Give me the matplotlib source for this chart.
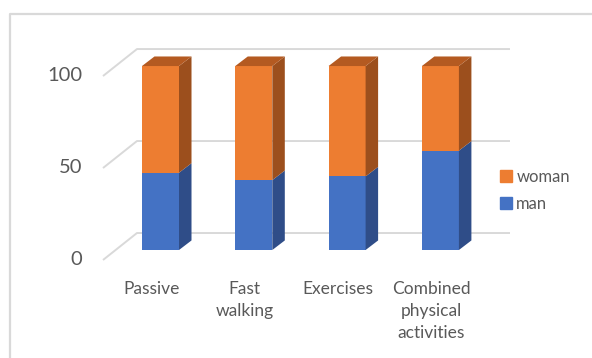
import matplotlib.pyplot as plt
from matplotlib.patches import Patch

categories = ["Passive", "Fast\nwalking", "Exercises", "Combined\nphysical\nactivities"]
man = [42, 38, 40, 54]
woman = [58, 62, 60, 46]
yticks = [0, 50, 100]

blue, blue_side = "#4472c4", "#2f4d88"
orange, orange_side, orange_top = "#ed7d31", "#9c4f1d", "#b45a21"
grid_c = "#d9d9d9"
text_c = "#595959"

plt.rcParams['font.family'] = ['Lato', 'DejaVu Sans']

fig = plt.figure(figsize=(5.92, 3.58), dpi=100)
ax = fig.add_axes([0, 0, 1, 1])
ax.set_xlim(-1.720, 4.625)
ax.set_ylim(-58.7, 135.9)
ax.axis('off')

# depth offsets (x in category units, y in value units)
bw = 0.397                   # bar width
bdx, bdy = 0.134, 5.2        # bar depth
fdx, fdy = -0.616, -5.43     # floor front-left corner
wx0, wx1, wdy = -0.252, 3.746, 9.24   # back wall

# gridlines on the side + back wall
for v in yticks:
    ax.plot([fdx, wx0, wx1], [v + fdy, v + wdy, v + wdy], color=grid_c, lw=1.4,
            zorder=1, solid_capstyle='butt')
    ax.text(-0.84, v + fdy + 0.5, str(v), ha='right', va='center', fontsize=14.5,
            color=text_c)

x = list(range(len(categories)))
ax.bar(x, man, width=bw, color=blue, zorder=3)
ax.bar(x, woman, width=bw, bottom=man, color=orange, zorder=3)

for i in x:
    xr = i + bw / 2
    xl = i - bw / 2
    top = man[i] + woman[i]
    # right side faces
    ax.fill([xr, xr + bdx, xr + bdx, xr], [0, bdy, man[i] + bdy, man[i]],
            color=blue_side, zorder=3, lw=0)
    ax.fill([xr, xr + bdx, xr + bdx, xr], [man[i], man[i] + bdy, top + bdy, top],
            color=orange_side, zorder=3, lw=0)
    # top face
    ax.fill([xl, xr, xr + bdx, xl + bdx], [top, top, top + bdy, top + bdy],
            color=orange_top, zorder=3, lw=0)
    ax.text(i - 0.10, -17.0, categories[i], ha='center', va='top', fontsize=12.5,
            color=text_c, linespacing=1.45)

handles = [Patch(color=orange, label="woman"), Patch(color=blue, label="man")]
fig.legend(handles=handles, loc='center left', bbox_to_anchor=(0.830, 0.469),
           frameon=False, fontsize=12, labelcolor=text_c, handlelength=0.75,
           handleheight=0.7, handletextpad=0.25, labelspacing=0.65, borderpad=0)

# chart border
fig.add_artist(plt.Line2D([9.5 / 592, 9.5 / 592, 1], [0, 1 - 13.5 / 358, 1 - 13.5 / 358],
                          color=grid_c, lw=1.6, transform=fig.transFigure))

fig.savefig("out.png", dpi=100)
